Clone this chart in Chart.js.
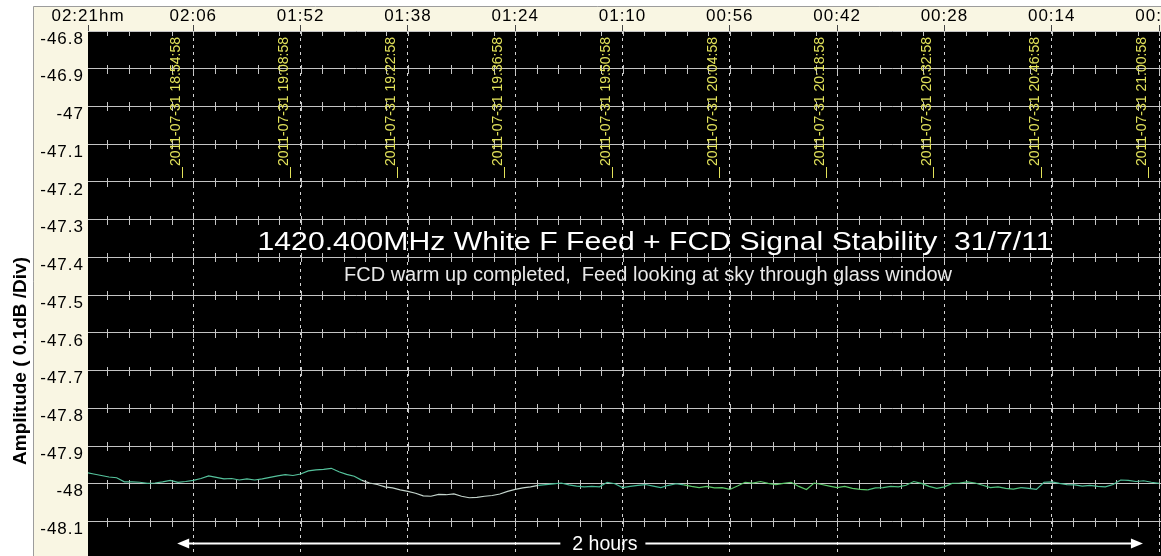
<!DOCTYPE html>
<html><head><meta charset="utf-8">
<script src="https://cdn.jsdelivr.net/npm/chart.js@4.4.1/dist/chart.umd.min.js"></script>
<style>html,body{margin:0;padding:0;background:#fff;overflow:hidden}canvas{display:block}</style>
</head><body>
<canvas id="c" width="1161" height="556"></canvas>
<script>
// ---- data ----
// sample time, minutes before end of run (axis runs right-to-left)
const minutes = [140,139,138,137,136,135,134,133,132,131,130,129,128,127,126,125,124,123,122,121,
120,119,118,117,116,115,114,113,112,111,110,109,108,107,106,105,104,103,102,101,
100,99,98,97,96,95,94,93,92,91,90,89,88,87,86,85,84,83,82,81,
80,79,78,77,76,75,74,73,72,71,70,69,68,67,66,65,64,63,62,61,
60,59,58,57,56,55,54,53,52,51,50,49,48,47,46,45,44,43,42,41,
40,39,38,37,36,35,34,33,32,31,30,29,28,27,26,25,24,23,22,21,
20,19,18,17,16,15,14,13,12,11,10,9,8,7,6,5,4,3,2,1,0];
const amplitude = [-47.970,
-47.974,-47.978,-47.982,-47.984,-47.995,-47.995,-47.996,-47.999,-47.998,-47.995,
-47.991,-47.996,-47.994,-47.991,-47.986,-47.979,-47.983,-47.987,-47.986,-47.990,
-47.987,-47.990,-47.987,-47.983,-47.979,-47.976,-47.978,-47.974,-47.966,-47.963,
-47.962,-47.959,-47.968,-47.975,-47.980,-47.991,-47.998,-48.002,-48.008,-48.011,
-48.016,-48.020,-48.025,-48.032,-48.033,-48.028,-48.029,-48.027,-48.033,-48.037,
-48.036,-48.033,-48.031,-48.027,-48.020,-48.015,-48.011,-48.008,-48.004,-48.002,
-48.000,-47.998,-48.003,-48.006,-48.008,-48.007,-48.008,-47.996,-48.000,-48.010,
-48.007,-48.004,-48.002,-48.006,-48.010,-48.004,-48.000,-48.003,-48.007,-48.010,
-48.007,-48.011,-48.010,-48.015,-48.006,-47.996,-47.998,-47.994,-47.999,-48.002,
-47.999,-47.996,-48.007,-48.015,-47.998,-48.002,-48.006,-48.010,-48.007,-48.012,
-48.015,-48.016,-48.011,-48.010,-48.007,-48.008,-48.004,-47.994,-47.999,-48.007,
-48.012,-48.008,-47.999,-47.998,-47.995,-47.998,-48.004,-48.010,-48.008,-48.012,
-48.014,-48.010,-48.012,-48.015,-47.996,-47.995,-47.999,-48.002,-48.003,-48.006,
-48.004,-48.007,-48.008,-48.002,-47.990,-47.991,-47.994,-47.992,-47.996,-47.999];

const xTickValues = [139.74,126,112,98,84,70,56,42,28,14,0];
const xTickLabels = ['02:21hm','02:06','01:52','01:38','01:24','01:10','00:56','00:42','00:28','00:14','00:00'];
const yTickValues = [-46.8,-46.9,-47.0,-47.1,-47.2,-47.3,-47.4,-47.5,-47.6,-47.7,-47.8,-47.9,-48.0,-48.1];

const stampDate = '2011-07-31';
const stampTimes = ['18:54:58','19:08:58','19:22:58','19:36:58','19:50:58','20:04:58','20:18:58','20:32:58','20:46:58','21:00:58'];
const stampMinutes = [127.43,113.43,99.43,85.43,71.43,57.43,43.43,29.43,15.43,1.43];

const titleText = '1420.400MHz White F Feed + FCD Signal Stability  31/7/11';
const subtitleText = 'FCD warm up completed,  Feed looking at sky through glass window';
const yTitleText = 'Amplitude ( 0.1dB /Div)';
const spanLabel = '2 hours';
const spanFrom = 128.1, spanTo = 2.1, spanLabelAt = 72.3, spanLevel = -48.157;

// ---- styles ----
const FONT = '"Liberation Sans", Arial, sans-serif';
const lineBands = [
  {from: 141, to: 104, color: '#55c29c'},
  {from: 104, to: 81, color: '#c4d4cc'},
  {from: 81, to: 62, color: '#45b893'},
  {from: 62, to: 38, color: '#5cc86a'},
  {from: 38, to: 18, color: '#4fc07e'},
  {from: 18, to: -1, color: '#50bf98'}
];
function bandColor(x){ for (const b of lineBands) if (x <= b.from && x > b.to) return b.color; return '#55c29c'; }

const deco = {
  id: 'deco',
  beforeDraw(chart) {
    const {ctx, chartArea: a, width, height} = chart;
    ctx.save();
    ctx.fillStyle = '#ffffff'; ctx.fillRect(0, 0, width, height);
    ctx.fillStyle = '#f9f6e3'; ctx.fillRect(33, 6, width - 33, height - 6);
    ctx.strokeStyle = '#9c9c9c'; ctx.lineWidth = 1;
    ctx.beginPath(); ctx.moveTo(33.5, height); ctx.lineTo(33.5, 6.5); ctx.lineTo(width, 6.5); ctx.stroke();
    ctx.fillStyle = '#000000'; ctx.fillRect(a.left, a.top, a.right - a.left, a.bottom - a.top);
    ctx.restore();
    ctx.letterSpacing = '1px';
  },
  beforeDatasetsDraw(chart) {
    const {ctx, chartArea: a} = chart;
    const xs = chart.scales.x, ys = chart.scales.y;
    ctx.save();
    ctx.letterSpacing = '0px';
    ctx.beginPath();
    ctx.rect(a.left, a.top, a.right - a.left, a.bottom - a.top); ctx.clip();
    ctx.strokeStyle = '#c4c4c4'; ctx.lineWidth = 1;
    ctx.beginPath();
    for (let k = 0; k <= 50; k++) {
      const v = k * 2.8;
      if (v > xs.max) break;
      const x = Math.round(xs.getPixelForValue(v)) + 0.5;
      for (const t of yTickValues) {
        const y = Math.round(ys.getPixelForValue(t));
        ctx.moveTo(x, y - 4); ctx.lineTo(x, y + 5);
      }
    }
    ctx.stroke();
    ctx.restore();
  },
  afterDatasetsDraw(chart) {
    const {ctx, chartArea: a} = chart;
    const xs = chart.scales.x, ys = chart.scales.y;
    ctx.save();
    ctx.letterSpacing = '0px';
    // time stamps
    ctx.fillStyle = '#e2e25a'; ctx.strokeStyle = '#e2e25a'; ctx.lineWidth = 1;
    ctx.font = '14px ' + FONT;
    stampTimes.forEach((t, i) => {
      const x = Math.round(xs.getPixelForValue(stampMinutes[i]));
      ctx.beginPath(); ctx.moveTo(x + 0.5, a.top + 136); ctx.lineTo(x + 0.5, a.top + 147); ctx.stroke();
      ctx.save();
      ctx.translate(x - 2, a.top + 135);
      ctx.rotate(-Math.PI / 2);
      ctx.textAlign = 'left'; ctx.textBaseline = 'alphabetic';
      ctx.fillText(stampDate + ' ' + t, 0, 0);
      ctx.restore();
    });
    // title & subtitle
    ctx.fillStyle = '#ffffff';
    ctx.textAlign = 'center'; ctx.textBaseline = 'alphabetic';
    ctx.save();
    ctx.translate(655, 250); ctx.scale(1.16, 1);
    ctx.font = '26px ' + FONT;
    ctx.fillText(titleText, 0, 0);
    ctx.restore();
    ctx.fillStyle = '#e8e8e8';
    ctx.font = '20px ' + FONT;
    ctx.fillText(subtitleText, 648, 281);
    // 2 hours span arrow
    const y = Math.round(ys.getPixelForValue(spanLevel)) + 0.5;
    const x0 = xs.getPixelForValue(spanFrom), x1 = xs.getPixelForValue(spanTo);
    const xm = xs.getPixelForValue(spanLabelAt);
    ctx.font = '19.5px ' + FONT;
    const w = ctx.measureText(spanLabel).width;
    ctx.strokeStyle = '#ffffff'; ctx.fillStyle = '#ffffff'; ctx.lineWidth = 2;
    ctx.beginPath();
    ctx.moveTo(x0 + 8, y); ctx.lineTo(xm - w / 2 - 12, y);
    ctx.moveTo(xm + w / 2 + 8, y); ctx.lineTo(x1 - 8, y);
    ctx.stroke();
    ctx.beginPath(); ctx.moveTo(x0, y); ctx.lineTo(x0 + 12, y - 5); ctx.lineTo(x0 + 12, y + 5); ctx.closePath(); ctx.fill();
    ctx.beginPath(); ctx.moveTo(x1, y); ctx.lineTo(x1 - 12, y - 5); ctx.lineTo(x1 - 12, y + 5); ctx.closePath(); ctx.fill();
    ctx.textBaseline = 'middle';
    ctx.fillText(spanLabel, xm, y + 1);
    ctx.restore();
  },
  afterDraw(chart) {
    const ctx = chart.ctx;
    ctx.save();
    ctx.letterSpacing = '0px';
    ctx.fillStyle = '#000000';
    ctx.font = 'bold 19px ' + FONT;
    ctx.translate(26, 361);
    ctx.rotate(-Math.PI / 2);
    ctx.textAlign = 'center'; ctx.textBaseline = 'alphabetic';
    ctx.fillText(yTitleText, 0, 0);
    ctx.restore();
  }
};

new Chart(document.getElementById('c'), {
  type: 'line',
  data: {
    datasets: [{
      data: minutes.map((m, i) => ({x: m, y: amplitude[i]})),
      borderWidth: 1.2,
      borderColor: '#55c29c',
      pointRadius: 0,
      tension: 0,
      segment: { borderColor: c => bandColor((c.p0.parsed.x + c.p1.parsed.x) / 2) }
    }]
  },
  options: {
    responsive: false,
    animation: false,
    events: [],
    layout: { padding: { left: 33, top: 6, right: 0, bottom: 0 } },
    plugins: { legend: { display: false }, tooltip: { enabled: false } },
    scales: {
      x: {
        type: 'linear', position: 'top', reverse: true,
        min: -0.26, max: 139.74,
        afterBuildTicks: s => { s.ticks = xTickValues.map(v => ({value: v})); },
        afterFit: s => { s.height = 25; s.paddingLeft = 0; s.paddingRight = 0; },
        ticks: {
          autoSkip: false, maxRotation: 0, minRotation: 0, padding: -2,
          color: '#000000', font: { family: FONT, size: 17 },
          callback: (v, i) => xTickLabels[i]
        },
        grid: {
          color: c => (c.tick && c.tick.value > 139) ? 'rgba(0,0,0,0)' : '#d4d4d4',
          lineWidth: 1, drawTicks: true, tickLength: 6, tickColor: '#444444', tickWidth: 1
        },
        border: { display: false, dash: [3, 4] }
      },
      y: {
        type: 'linear', position: 'left',
        min: -48.1914, max: -46.8,
        afterBuildTicks: s => { s.ticks = yTickValues.map(v => ({value: v})); },
        afterFit: s => { s.width = 55; s.paddingTop = 0; s.paddingBottom = 0; },
        ticks: {
          padding: 4, labelOffset: 8, color: '#000000', font: { family: FONT, size: 17 },
          callback: v => String(Number(v.toFixed(1)))
        },
        grid: { color: '#c4c4c4', lineWidth: 1, drawTicks: false },
        border: { display: false }
      }
    }
  },
  plugins: [deco]
});
</script>
</body></html>
